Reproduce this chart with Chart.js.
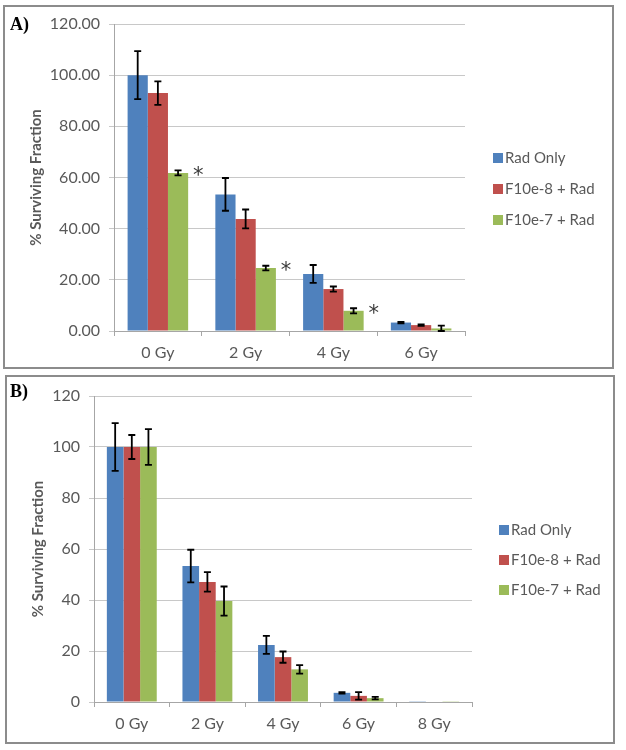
<!DOCTYPE html>
<html>
<head>
<meta charset="utf-8">
<script src="https://cdn.jsdelivr.net/npm/chart.js@4.4.0/dist/chart.umd.min.js"></script>
<style>
body { margin: 0; background: #fff; width: 626px; height: 750px; position: relative; overflow: hidden; }
.quadro { position: absolute; border: 2px solid #8c8c8c; box-sizing: border-box; pointer-events: none; }
canvas { position: absolute; }
.rotulo { position: absolute; font-family: "Liberation Serif", serif; font-weight: bold; font-size: 18px; color: #000; }
</style>
</head>
<body>
<canvas id="graficoA" width="611" height="363" style="left:3px; top:5px;"></canvas>
<div class="quadro" style="left:3px; top:5px; width:611px; height:364px;"></div>
<div class="rotulo" style="left:10px; top:14px;">A)</div>

<canvas id="graficoB" width="610" height="368" style="left:5px; top:375px;"></canvas>
<div class="quadro" style="left:5px; top:375px; width:610px; height:369px;"></div>
<div class="rotulo" style="left:10px; top:381px;">B)</div>

<script>
// Painel A
var categoriasA = ['0 Gy', '2 Gy', '4 Gy', '6 Gy'];
var radOnlyA = [100, 53.4, 22.3, 3.3];
var f8A = [93.0, 43.8, 16.4, 2.3];
var f7A = [61.8, 24.6, 7.9, 1.0];
var errRadOnlyA = [9.4, 6.4, 3.5, 0.3];
var errF8A = [4.6, 3.7, 1.0, 0.3];
var errF7A = [1.0, 0.9, 1.0, 1.1];
var asteriscoA = [true, true, true, false];

// Painel B
var categoriasB = ['0 Gy', '2 Gy', '4 Gy', '6 Gy', '8 Gy'];
var radOnlyB = [100, 53.3, 22.4, 3.6, 0.3];
var f8B = [100, 47.1, 17.6, 2.4, 0.2];
var f7B = [100, 39.6, 12.8, 1.5, 0.1];
var errRadOnlyB = [9.4, 6.4, 3.5, 0.3, 0];
var errF8B = [4.7, 3.8, 2.2, 1.5, 0];
var errF7B = [7.0, 5.7, 1.7, 0.5, 0];
var asteriscoB = [false, false, false, false, false];

var nomes = ['Rad Only', 'F10e-8 + Rad', 'F10e-7 + Rad'];
var cores = ['#4f81bd', '#c0504d', '#9bbb59'];

Chart.defaults.font.family = 'Lato';
Chart.defaults.color = '#595959';

// barras de erro e asteriscos
var pluginErros = {
    id: 'erros',
    afterDatasetsDraw: function (chart, args, opts) {
        var ctx = chart.ctx;
        var y = chart.scales.y;
        ctx.save();
        ctx.strokeStyle = '#000';
        ctx.lineWidth = 1.8;
        chart.data.datasets.forEach(function (ds, i) {
            var meta = chart.getDatasetMeta(i);
            meta.data.forEach(function (bar, j) {
                var e = ds.erros[j];
                if (!e) return;
                var topo = y.getPixelForValue(ds.data[j] + e);
                var base = y.getPixelForValue(Math.max(ds.data[j] - e, 0));
                ctx.beginPath();
                ctx.moveTo(bar.x, topo);
                ctx.lineTo(bar.x, base);
                ctx.moveTo(bar.x - 3.5, topo);
                ctx.lineTo(bar.x + 3.5, topo);
                ctx.moveTo(bar.x - 3.5, base);
                ctx.lineTo(bar.x + 3.5, base);
                ctx.stroke();
            });
        });
        // asteriscos ao lado da última série
        var ultimo = chart.data.datasets.length - 1;
        var metaU = chart.getDatasetMeta(ultimo);
        ctx.fillStyle = '#3a3a3a';
        ctx.font = '21px "DejaVu Sans"';
        ctx.textAlign = 'center';
        ctx.textBaseline = 'alphabetic';
        (opts.asteriscos || []).forEach(function (temAst, j) {
            if (!temAst) return;
            var bar = metaU.data[j];
            ctx.fillText('*', bar.x + bar.width / 2 + 10, bar.y + 9);
        });
        ctx.restore();
    }
};

// legenda desenhada à mão, como no Excel
var pluginLegenda = {
    id: 'legenda',
    afterDraw: function (chart, args, opts) {
        var ctx = chart.ctx;
        ctx.save();
        ctx.font = '15px Lato';
        ctx.textBaseline = 'middle';
        ctx.textAlign = 'left';
        chart.data.datasets.forEach(function (ds, i) {
            var yy = opts.y + i * opts.gap;
            ctx.fillStyle = ds.backgroundColor;
            ctx.fillRect(opts.x, yy - 5, 10, 10);
            ctx.fillStyle = '#595959';
            ctx.fillText(ds.label, opts.x + 12, yy);
        });
        ctx.restore();
    }
};

function criarGrafico(id, categorias, series, erros, asteriscos, cfg) {
    var ctx = document.getElementById(id).getContext('2d');
    var datasets = series.map(function (s, i) {
        return {
            label: nomes[i],
            data: s,
            erros: erros[i],
            backgroundColor: cores[i],
            borderWidth: 0,
            categoryPercentage: cfg.catPct,
            barPercentage: 1.0
        };
    });
    return new Chart(ctx, {
        type: 'bar',
        data: { labels: categorias, datasets: datasets },
        plugins: [pluginErros, pluginLegenda],
        options: {
            responsive: false,
            animation: false,
            layout: { padding: { left: cfg.padLeft, top: cfg.padTop, right: cfg.padRight, bottom: 0 } },
            scales: {
                x: {
                    afterFit: function (scale) { scale.height = cfg.xHeight; },
                    grid: { drawOnChartArea: false, drawTicks: true, tickLength: 5, color: '#a6a6a6', offset: true },
                    border: { color: '#a6a6a6', width: 1 },
                    ticks: { font: { size: 16 }, color: '#595959', padding: 7 }
                },
                y: {
                    min: 0,
                    max: 120,
                    afterFit: function (scale) { scale.width = cfg.yWidth; },
                    grid: { color: '#c8c8c8', lineWidth: 1, tickLength: 5 },
                    border: { color: '#a6a6a6', width: 1 },
                    ticks: {
                        stepSize: 20,
                        font: { size: 16 },
                        color: '#595959',
                        padding: 9,
                        callback: function (v) { return cfg.decimais ? v.toFixed(2) : v; }
                    },
                    title: {
                        display: true,
                        text: '% Surviving Fraction',
                        font: { size: 15, weight: 'bold' },
                        color: '#595959',
                        padding: { top: 0, bottom: 0 }
                    }
                }
            },
            plugins: {
                legend: { display: false },
                tooltip: { enabled: false },
                erros: { asteriscos: asteriscos },
                legenda: cfg.legenda
            }
        }
    });
}

criarGrafico('graficoA', categoriasA, [radOnlyA, f8A, f7A], [errRadOnlyA, errF8A, errF7A], asteriscoA, {
    catPct: 0.69, padLeft: 24, padTop: 19, padRight: 149, yWidth: 87, xHeight: 37, decimais: true,
    legenda: { x: 490, y: 153, gap: 31 }
});

criarGrafico('graficoB', categoriasB, [radOnlyB, f8B, f7B], [errRadOnlyB, errF8B, errF7B], asteriscoB, {
    catPct: 0.66, padLeft: 24, padTop: 21, padRight: 143, yWidth: 65, xHeight: 41, decimais: false,
    legenda: { x: 494, y: 155, gap: 30 }
});
</script>
</body>
</html>
